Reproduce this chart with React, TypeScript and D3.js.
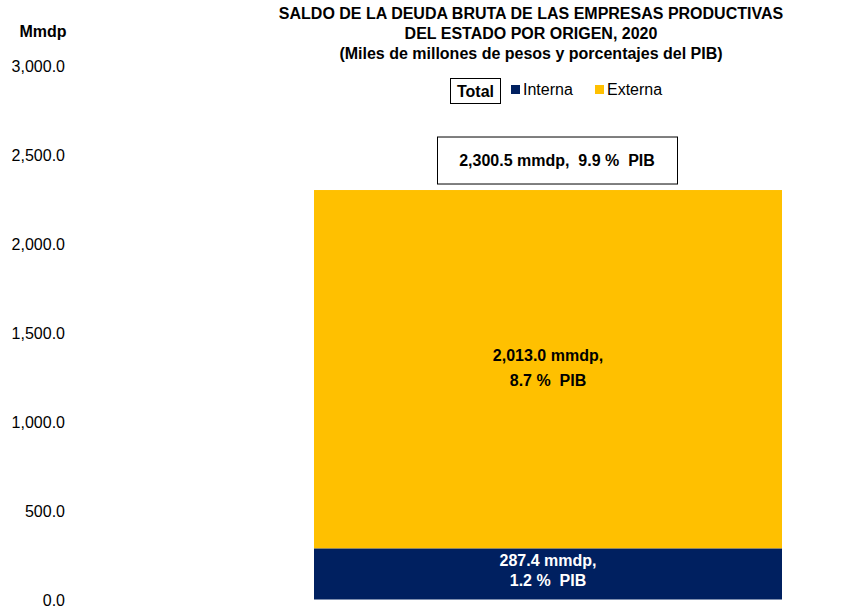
import React from "react";
import * as d3 from "d3";

const categories = ["2020"];
const interna = [287.4];
const externa = [2013.0];
const total = [2300.5];
const internaPib = ["1.2"];
const externaPib = ["8.7"];
const totalPib = ["9.9"];
const yTicks = [0, 500, 1000, 1500, 2000, 2500, 3000];
const titleLines = [
  "SALDO DE LA DEUDA BRUTA DE LAS EMPRESAS PRODUCTIVAS",
  "DEL ESTADO POR ORIGEN, 2020",
  "(Miles de millones de pesos y porcentajes del PIB)",
];

const NAVY = "#002060";
const GOLD = "#FFC000";
const FONT = "Liberation Sans, Arial, sans-serif";
const NB = "\u00a0";

export default function App() {
  const W = 849, H = 610;
  const y = d3.scaleLinear().domain([0, 3000]).range([599.5, 65.5]);
  const x = d3.scaleBand().domain(categories).range([314, 782]).padding(0);
  const fmt = d3.format(",.1f");
  const cx = (c: string) => (x(c) as number) + x.bandwidth() / 2;

  return (
    <svg width={W} height={H} style={{ position: "absolute", left: 0, top: 0, fontFamily: FONT }}>
      <rect width={W} height={H} fill="#fff" />
      {titleLines.map((t, i) => (
        <text key={i} x={531} y={19 + i * 20} textAnchor="middle" fontSize={16} fontWeight="bold" fill="#000">{t}</text>
      ))}
      <text x={43} y={37} textAnchor="middle" fontSize={16} fontWeight="bold">Mmdp</text>
      {yTicks.map((t) => (
        <text key={t} x={65} y={y(t) + 6} textAnchor="end" fontSize={16} fill="#000">{fmt(t)}</text>
      ))}
      {/* legend */}
      <rect x={450.5} y={78.5} width={50} height={25} fill="#fff" stroke="#000" strokeWidth={1} />
      <text x={475.5} y={97} textAnchor="middle" fontSize={16} fontWeight="bold">Total</text>
      <rect x={511} y={85} width={9} height={9} fill={NAVY} />
      <text x={523} y={95} fontSize={16}>Interna</text>
      <rect x={595} y={85} width={9} height={9} fill={GOLD} />
      <text x={607} y={95} fontSize={16}>Externa</text>
      {categories.map((c, i) => {
        const x0 = x(c) as number;
        const bw = x.bandwidth();
        const tTop = y(total[i]);
        return (
          <g key={c}>
            <rect x={x0} y={y(interna[i])} width={bw} height={y(0) - y(interna[i])} fill={NAVY} />
            <rect x={x0} y={y(interna[i] + externa[i])} width={bw} height={y(interna[i]) - y(interna[i] + externa[i])} fill={GOLD} />
            <text x={cx(c)} y={y(interna[i] + externa[i] / 2) - 8} textAnchor="middle" fontSize={16} fontWeight="bold">{fmt(externa[i])} mmdp,</text>
            <text x={cx(c)} y={y(interna[i] + externa[i] / 2) + 17} textAnchor="middle" fontSize={16} fontWeight="bold">{`${externaPib[i]} %${NB} PIB`}</text>
            <text x={cx(c)} y={y(interna[i] / 2) - 8} textAnchor="middle" fontSize={16} fontWeight="bold" fill="#fff">{fmt(interna[i])} mmdp,</text>
            <text x={cx(c)} y={y(interna[i] / 2) + 12} textAnchor="middle" fontSize={16} fontWeight="bold" fill="#fff">{`${internaPib[i]} %${NB} PIB`}</text>
            <rect x={437.5} y={tTop - 53} width={240} height={47} fill="#fff" stroke="#000" strokeWidth={1} />
            <text x={557} y={tTop - 24} textAnchor="middle" fontSize={16} fontWeight="bold">{`${fmt(total[i])} mmdp,${NB} ${totalPib[i]} %${NB} PIB`}</text>
          </g>
        );
      })}
    </svg>
  );
}
